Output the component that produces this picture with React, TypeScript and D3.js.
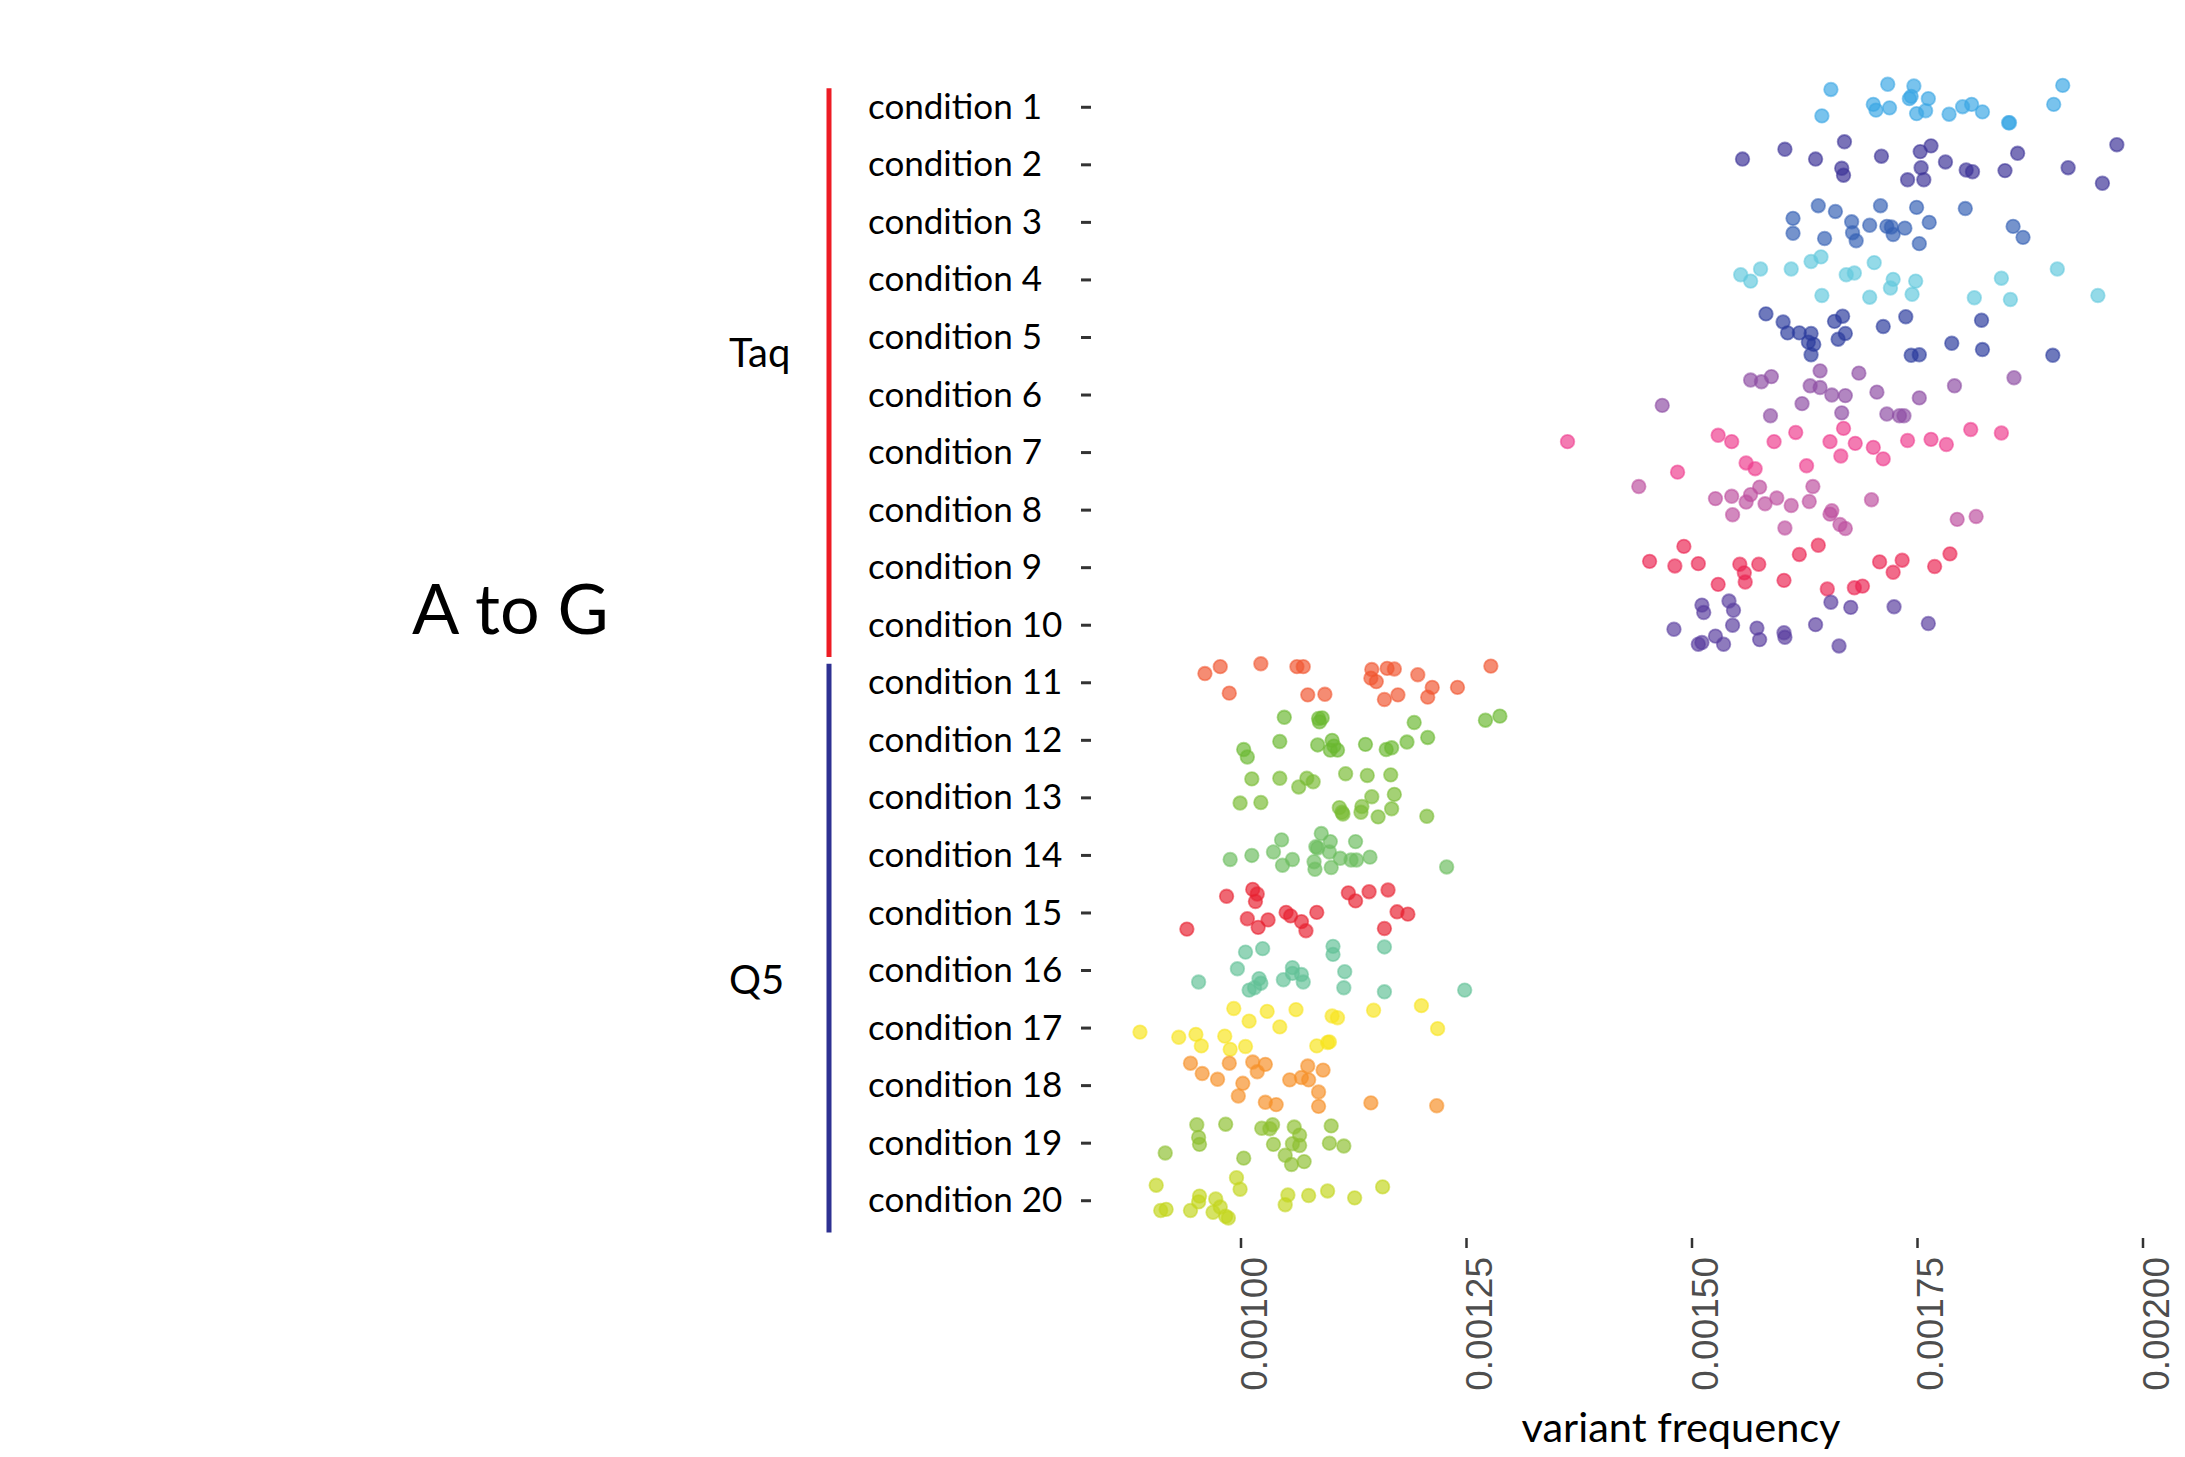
import React from 'react';
import * as d3 from 'd3';

// layout of the reference picture
const WIDTH = 2185;
const HEIGHT = 1457;

const conditions = [
    'condition 1', 'condition 2', 'condition 3', 'condition 4', 'condition 5',
    'condition 6', 'condition 7', 'condition 8', 'condition 9', 'condition 10',
    'condition 11', 'condition 12', 'condition 13', 'condition 14', 'condition 15',
    'condition 16', 'condition 17', 'condition 18', 'condition 19', 'condition 20',
];

const conditionColors = [
    '#3aa6e4', '#3b3196', '#3460b4', '#62c9dd', '#2a3a9c',
    '#8d4ca3', '#ee3d8e', '#bd4f9f', '#eb2552', '#583c9e',
    '#f05530', '#6ab830', '#79bb33', '#6cbd5e', '#e82130',
    '#62c197', '#f8e41e', '#f68f26', '#8dc030', '#c3d61c',
];

const xTicks = [0.001, 0.00125, 0.0015, 0.00175, 0.002];

const polymerases = ['Taq', 'Q5'];
const polymeraseColors = ['#ed1c24', '#2e3192'];
const polymeraseRanges = [['condition 1', 'condition 10'], ['condition 11', 'condition 20']];

const title = 'A to G';
const xLabel = 'variant frequency';

// [variant frequency, vertical jitter as a fraction of the row height]
const cond1 = [[0.001654,-0.31],[0.001717,-0.40],[0.001746,-0.37],[0.001743,-0.19],[0.001741,-0.15],[0.001762,-0.15],[0.001701,-0.05],[0.001704,0.05],[0.001719,0.01],[0.001749,0.11],[0.001759,0.06],[0.001785,0.12],[0.001800,-0.01],[0.001810,-0.05],[0.001822,0.08],[0.001851,0.27],[0.001852,0.27],[0.001911,-0.38],[0.001901,-0.05],[0.001644,0.15]];
const cond2 = [[0.001556,-0.10],[0.001603,-0.27],[0.001637,-0.10],[0.001669,-0.40],[0.001666,0.06],[0.001668,0.18],[0.001710,-0.15],[0.001753,-0.23],[0.001765,-0.33],[0.001754,0.05],[0.001739,0.26],[0.001757,0.26],[0.001781,-0.05],[0.001804,0.09],[0.001811,0.12],[0.001847,0.10],[0.001861,-0.20],[0.001917,0.05],[0.001955,0.32],[0.001971,-0.35]];
const cond3 = [[0.001640,-0.29],[0.001659,-0.19],[0.001612,-0.07],[0.001612,0.19],[0.001647,0.28],[0.001677,-0.01],[0.001678,0.18],[0.001682,0.32],[0.001697,0.05],[0.001709,-0.29],[0.001716,0.07],[0.001721,0.08],[0.001723,0.21],[0.001736,0.10],[0.001749,-0.26],[0.001763,0.00],[0.001752,0.37],[0.001803,-0.24],[0.001856,0.07],[0.001867,0.26]];
const cond4 = [[0.001554,-0.09],[0.001565,0.02],[0.001576,-0.19],[0.001610,-0.19],[0.001632,-0.32],[0.001643,-0.40],[0.001644,0.27],[0.001671,-0.09],[0.001680,-0.12],[0.001702,-0.30],[0.001697,0.30],[0.001723,-0.01],[0.001720,0.14],[0.001744,0.25],[0.001748,0.02],[0.001813,0.31],[0.001843,-0.03],[0.001853,0.34],[0.001905,-0.19],[0.001950,0.27]];
const cond5 = [[0.001582,-0.41],[0.001601,-0.27],[0.001606,-0.08],[0.001619,-0.08],[0.001632,-0.07],[0.001629,0.08],[0.001635,0.12],[0.001632,0.30],[0.001658,-0.28],[0.001667,-0.37],[0.001662,0.03],[0.001670,-0.07],[0.001712,-0.19],[0.001737,-0.36],[0.001743,0.31],[0.001752,0.30],[0.001788,0.10],[0.001821,-0.30],[0.001822,0.21],[0.001900,0.31]];
const cond6 = [[0.001565,-0.26],[0.001577,-0.23],[0.001588,-0.32],[0.001642,-0.42],[0.001685,-0.38],[0.001857,-0.30],[0.001791,-0.16],[0.001631,-0.16],[0.001642,-0.13],[0.001655,0.00],[0.001670,0.01],[0.001705,-0.05],[0.001752,0.05],[0.001622,0.15],[0.001467,0.18],[0.001587,0.36],[0.001666,0.31],[0.001716,0.33],[0.001730,0.36],[0.001735,0.36]];
const cond7 = [[0.001362,-0.19],[0.001484,0.34],[0.001529,-0.30],[0.001544,-0.19],[0.001560,0.18],[0.001570,0.28],[0.001591,-0.19],[0.001615,-0.35],[0.001627,0.23],[0.001653,-0.19],[0.001668,-0.42],[0.001665,0.06],[0.001681,-0.16],[0.001701,-0.09],[0.001712,0.11],[0.001739,-0.21],[0.001765,-0.23],[0.001782,-0.14],[0.001809,-0.40],[0.001843,-0.34]];
const cond8 = [[0.001441,-0.41],[0.001526,-0.20],[0.001544,-0.24],[0.001560,-0.14],[0.001565,-0.27],[0.001575,-0.40],[0.001581,-0.11],[0.001594,-0.21],[0.001545,0.08],[0.001610,-0.08],[0.001603,0.31],[0.001630,-0.15],[0.001634,-0.41],[0.001653,0.07],[0.001655,0.01],[0.001664,0.25],[0.001670,0.32],[0.001699,-0.18],[0.001794,0.16],[0.001815,0.11]];
const cond9 = [[0.001491,-0.37],[0.001453,-0.11],[0.001481,-0.03],[0.001507,-0.07],[0.001529,0.29],[0.001553,-0.06],[0.001558,0.09],[0.001559,0.25],[0.001574,-0.06],[0.001602,0.22],[0.001619,-0.23],[0.001640,-0.39],[0.001650,0.37],[0.001680,0.35],[0.001689,0.32],[0.001708,-0.10],[0.001723,0.08],[0.001733,-0.13],[0.001769,-0.02],[0.001786,-0.24]];
const cond10 = [[0.001511,-0.35],[0.001513,-0.22],[0.001541,-0.42],[0.001546,-0.26],[0.001480,0.07],[0.001545,0.00],[0.001572,0.05],[0.001575,0.25],[0.001602,0.13],[0.001603,0.21],[0.001637,-0.01],[0.001654,-0.40],[0.001676,-0.31],[0.001724,-0.32],[0.001762,-0.03],[0.001663,0.36],[0.001507,0.33],[0.001511,0.30],[0.001526,0.19],[0.001535,0.33]];
const cond11 = [[0.000960,-0.16],[0.000977,-0.28],[0.001022,-0.33],[0.001062,-0.28],[0.001069,-0.28],[0.000987,0.18],[0.001074,0.21],[0.001093,0.20],[0.001145,-0.23],[0.001144,-0.08],[0.001150,-0.02],[0.001162,-0.25],[0.001170,-0.24],[0.001159,0.29],[0.001174,0.21],[0.001196,-0.14],[0.001212,0.08],[0.001207,0.25],[0.001240,0.08],[0.001277,-0.29]];
const cond12 = [[0.001048,-0.40],[0.001086,-0.38],[0.001090,-0.39],[0.001087,-0.32],[0.001271,-0.35],[0.001287,-0.42],[0.001192,-0.31],[0.001043,0.02],[0.001003,0.16],[0.001007,0.29],[0.001085,0.08],[0.001101,0.00],[0.001103,0.10],[0.001099,0.17],[0.001107,0.17],[0.001138,0.07],[0.001161,0.16],[0.001167,0.13],[0.001184,0.03],[0.001207,-0.05]];
const cond13 = [[0.001012,-0.33],[0.001043,-0.34],[0.001064,-0.19],[0.001073,-0.34],[0.001080,-0.28],[0.001116,-0.42],[0.001140,-0.39],[0.001166,-0.40],[0.000999,0.09],[0.001022,0.08],[0.001145,-0.02],[0.001170,-0.06],[0.001109,0.17],[0.001112,0.25],[0.001113,0.28],[0.001134,0.15],[0.001133,0.25],[0.001152,0.33],[0.001167,0.19],[0.001206,0.32]];
const cond14 = [[0.001089,-0.38],[0.001045,-0.27],[0.001099,-0.24],[0.001127,-0.24],[0.001036,-0.06],[0.001012,0.00],[0.000988,0.07],[0.001057,0.07],[0.001046,0.17],[0.001083,-0.15],[0.001081,0.11],[0.001082,0.24],[0.001098,-0.06],[0.001100,0.21],[0.001110,0.05],[0.001122,0.08],[0.001128,0.08],[0.001143,0.03],[0.001228,0.20],[0.001085,-0.13]];
const cond15 = [[0.000984,-0.29],[0.001013,-0.41],[0.001018,-0.33],[0.001016,-0.20],[0.000940,0.28],[0.001007,0.10],[0.001019,0.25],[0.001030,0.12],[0.001050,-0.01],[0.001055,0.05],[0.001067,0.15],[0.001072,0.31],[0.001084,-0.01],[0.001119,-0.35],[0.001127,-0.21],[0.001142,-0.37],[0.001163,-0.40],[0.001173,-0.02],[0.001185,0.02],[0.001159,0.27]];
const cond16 = [[0.001005,-0.32],[0.001024,-0.38],[0.001102,-0.42],[0.001102,-0.28],[0.001159,-0.41],[0.000996,-0.03],[0.000953,0.20],[0.001020,0.14],[0.001022,0.22],[0.001009,0.34],[0.001015,0.30],[0.001047,0.16],[0.001057,-0.05],[0.001057,0.05],[0.001067,0.07],[0.001069,0.20],[0.001115,0.02],[0.001114,0.30],[0.001159,0.37],[0.001248,0.34]];
const cond17 = [[0.000992,-0.34],[0.001009,-0.12],[0.001029,-0.29],[0.001043,-0.02],[0.001061,-0.32],[0.001101,-0.21],[0.001107,-0.18],[0.001147,-0.31],[0.001200,-0.39],[0.001218,0.01],[0.000888,0.07],[0.000931,0.16],[0.000950,0.11],[0.000956,0.31],[0.000982,0.14],[0.000988,0.37],[0.001005,0.32],[0.001084,0.31],[0.001096,0.25],[0.001098,0.24]];
const cond18 = [[0.000944,-0.39],[0.000957,-0.21],[0.000974,-0.11],[0.000987,-0.39],[0.000997,0.18],[0.001002,-0.04],[0.001013,-0.41],[0.001018,-0.24],[0.001027,-0.37],[0.001027,0.29],[0.001039,0.33],[0.001054,-0.10],[0.001067,-0.14],[0.001074,-0.34],[0.001075,-0.10],[0.001086,0.11],[0.001086,0.36],[0.001091,-0.27],[0.001144,0.30],[0.001217,0.35]];
const cond19 = [[0.000951,-0.32],[0.000983,-0.33],[0.000953,-0.10],[0.000954,0.02],[0.000916,0.17],[0.001003,0.26],[0.001023,-0.26],[0.001032,-0.25],[0.001035,-0.32],[0.001036,0.02],[0.001049,0.21],[0.001056,0.37],[0.001059,-0.28],[0.001065,-0.14],[0.001057,0.01],[0.001065,0.04],[0.001070,0.32],[0.001100,-0.30],[0.001098,0.00],[0.001114,0.05]];
const cond20 = [[0.000906,-0.27],[0.000911,0.17],[0.000917,0.15],[0.000944,0.17],[0.000954,-0.08],[0.000953,0.02],[0.000972,-0.03],[0.000969,0.20],[0.000977,0.11],[0.000986,0.30],[0.000983,0.27],[0.000995,-0.40],[0.000999,-0.20],[0.001052,-0.10],[0.001049,0.07],[0.001075,-0.09],[0.001096,-0.17],[0.001126,-0.05],[0.001157,-0.24]];

const conditionPoints = [
    cond1, cond2, cond3, cond4, cond5, cond6, cond7, cond8, cond9, cond10,
    cond11, cond12, cond13, cond14, cond15, cond16, cond17, cond18, cond19, cond20,
];

const SANS = 'Lato, "Open Sans", sans-serif';

export default function App() {
    const x = d3.scaleLinear().domain([0.001, 0.002]).range([1241, 2143]);
    const y = d3.scaleBand<string>().domain(conditions).range([78.5, 1229.5]);
    const step = y.step();
    const rowY = (c: string) => (y(c) as number) + step / 2;
    const fmt = d3.format('.5f');

    const axisY = 1238; // top of x-axis ticks
    const tickX = 1081; // left end of y-axis ticks
    const barX = 829;
    const labelX = 868;

    // where each polymerase label sits (baselines)
    const groupLabelY = [rowY('condition 5') + 30, rowY('condition 16') + 23];

    return (
        <svg
            width={WIDTH}
            height={HEIGHT}
            viewBox={`0 0 ${WIDTH} ${HEIGHT}`}
            style={{ position: 'absolute', left: 0, top: 0, background: '#fff' }}
        >
            <rect width={WIDTH} height={HEIGHT} fill="#fff" />

            <text x={412} y={634} fontFamily={SANS} fontSize={70} fill="#000">
                {title}
            </text>

            {polymerases.map((p, i) => {
                const [from, to] = polymeraseRanges[i];
                const y0 = (y(from) as number) + step * 0.17;
                const y1 = (y(to) as number) + step * 1.05;
                return (
                    <g key={p}>
                        <line x1={barX} x2={barX} y1={y0} y2={y1} stroke={polymeraseColors[i]} strokeWidth={5} />
                        <text x={729} y={groupLabelY[i]} fontFamily={SANS} fontSize={40} fill="#000">
                            {p}
                        </text>
                    </g>
                );
            })}

            {conditions.map((c) => (
                <g key={c}>
                    <text x={labelX} y={rowY(c)} dy="0.33em" fontFamily={SANS} fontSize={35} fill="#000">
                        {c}
                    </text>
                    <line x1={tickX} x2={tickX + 10} y1={rowY(c)} y2={rowY(c)} stroke="#333" strokeWidth={3} />
                </g>
            ))}

            {conditionPoints.map((pts, i) => (
                <g key={conditions[i]}>
                    {pts.map(([v, j], k) => (
                        <circle
                            key={k}
                            cx={x(v)}
                            cy={rowY(conditions[i]) + j * step}
                            r={6.8}
                            fill={conditionColors[i]}
                            fillOpacity={0.68}
                            stroke={conditionColors[i]}
                            strokeOpacity={0.55}
                            strokeWidth={1.8}
                        />
                    ))}
                </g>
            ))}

            {xTicks.map((t) => (
                <g key={t}>
                    <line x1={x(t)} x2={x(t)} y1={axisY} y2={axisY + 10} stroke="#333" strokeWidth={2.5} />
                    <text
                        transform={`translate(${x(t) + 13},${axisY + 19}) rotate(-90)`}
                        dy="0.35em"
                        textAnchor="end"
                        fontFamily='"Liberation Sans", Arial, sans-serif'
                        fontSize={37}
                        fill="#4d4d4d"
                    >
                        {fmt(t)}
                    </text>
                </g>
            ))}

            <text x={1681} y={1442} textAnchor="middle" fontFamily={SANS} fontSize={41.5} fill="#000">
                {xLabel}
            </text>
        </svg>
    );
}
